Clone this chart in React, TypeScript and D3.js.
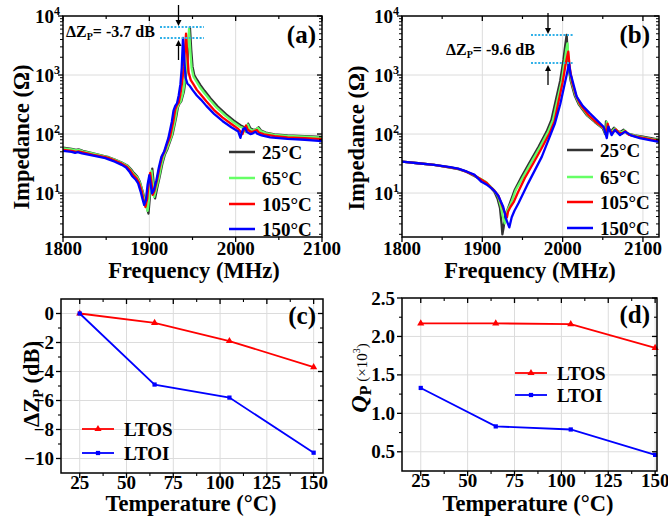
import React from 'react';
import * as d3 from 'd3';

type Pt = [number, number];

const TS: React.CSSProperties = { fontFamily: 'Liberation Serif, serif', fontWeight: 700 };

// ---------- Panel (a): impedance vs frequency ----------
const a25: Pt[] = [[1800,59],[1810,56],[1815,54],[1818,55],[1823,52],[1835,47],[1849,42],[1853,40.5],[1860,37],[1868,33],[1875,29],[1879,25],[1882,22],[1886,19],[1889,15.5],[1892,11],[1895.5,7],[1899,4.5],[1901,10],[1903.4,26],[1905,15],[1906.6,8.1],[1909,12],[1912,19],[1915,31],[1918,45],[1921,56],[1923,68],[1927,100],[1931,190],[1933,280],[1935,330],[1937,360],[1940,520],[1942,850],[1944,1700],[1947,6500],[1948.5,2700],[1950,1400],[1952,1000],[1955,840],[1959,680],[1964,540],[1971,400],[1979,295],[1989,215],[1998,168],[2006,140],[2010,130],[2011.5,112],[2014.5,150],[2017,125],[2021,117],[2024,121],[2026.5,130],[2029.5,114],[2035,106],[2045,99],[2060,95],[2080,92],[2100,89]];
const a65: Pt[] = [[1800,57],[1810,55],[1815,53],[1818,54],[1823,51],[1835,46.5],[1849,41.5],[1853,40],[1860,36.5],[1868,32.5],[1875,28.5],[1879,24],[1882,21],[1886,18.5],[1889,15],[1892,10.5],[1895,7],[1898,5],[1900,9],[1902.5,24],[1904,15],[1905.5,8.5],[1908,12],[1911,18],[1914,30],[1917,44],[1920,55],[1922,66],[1926,95],[1930,180],[1932,270],[1934,320],[1936,350],[1939,500],[1941,800],[1943,1500],[1946,6000],[1947.5,2500],[1949,1300],[1951,950],[1954,800],[1958,640],[1963,510],[1970,380],[1978,280],[1988,205],[1997,160],[2005,133],[2010,125],[2011.5,108],[2014,145],[2016,122],[2020,114],[2023,119],[2026,126],[2029,112],[2035,104],[2045,97],[2060,93],[2080,90],[2100,87]];
const a105: Pt[] = [[1800,54],[1810,52],[1815,50],[1818,51],[1823,49],[1835,44.5],[1849,40.5],[1853,39],[1860,35.5],[1868,31.5],[1874,28],[1878,24],[1881,20.5],[1885,18],[1888,15],[1891,11],[1893,8],[1895.5,5.8],[1897.5,8],[1899.5,16],[1901,22],[1902.5,15],[1904,9.3],[1906,11],[1909,17],[1912,28],[1915,42],[1918,52],[1920,64],[1924,90],[1928,170],[1930,260],[1932,310],[1934,340],[1936,470],[1938,750],[1940,1400],[1942.5,5000],[1944,2200],[1945.5,1100],[1948,820],[1951,700],[1955,560],[1960,460],[1966,360],[1975,255],[1985,190],[1995,148],[2003,122],[2008,100],[2009.5,118],[2012,140],[2014,118],[2018,108],[2021,111],[2024.5,117],[2027,106],[2033,99],[2045,92],[2060,88],[2080,85],[2100,82]];
const a150: Pt[] = [[1800,52],[1810,50],[1814,48],[1817,49.5],[1822,47],[1835,43],[1849,39],[1852,37.5],[1860,34],[1868,30],[1873,27],[1877,23],[1880,19.5],[1884,17],[1887,14.6],[1890,10.5],[1892,8],[1894,6.3],[1896,7.5],[1898,14],[1900,20],[1901.5,14],[1903,9.9],[1905,11],[1908,16],[1911,27],[1914,41],[1917,50],[1919,62],[1922,85],[1926,160],[1928,250],[1930,300],[1932,330],[1934,450],[1936,700],[1937.5,1300],[1939,4250],[1940.5,1800],[1942,900],[1944,720],[1947,650],[1950,560],[1955,450],[1960,380],[1966,300],[1975,220],[1985,165],[1995,130],[2003,110],[2005.5,86],[2007,105],[2009,124],[2011,126],[2013,108],[2017,100],[2020,103],[2023,109],[2025,101],[2030,95],[2040,88],[2060,83],[2080,80],[2100,76]];

// ---------- Panel (b) ----------
const b25: Pt[] = [[1800,34],[1820,32],[1840,30],[1860,27],[1870,25.5],[1880,23],[1890,19.5],[1900,16.5],[1905,15],[1910,12.5],[1915,10.5],[1919,8],[1922,5.6],[1924,3],[1925,2],[1926.5,2.6],[1928,3.9],[1932,5.5],[1934.5,6.8],[1940,11],[1949,19],[1960,35],[1970,61],[1980,110],[1986,173],[1992,400],[1997,800],[2001,1800],[2003,3000],[2005,4800],[2007,1500],[2010,800],[2015,450],[2020,320],[2030,210],[2040,160],[2050,125],[2053,100],[2054,164],[2056,130],[2060,110],[2064,128],[2068,112],[2072,108],[2076,118],[2080,103],[2090,95],[2100,90],[2110,85],[2120,80]];
const b65: Pt[] = [[1800,34],[1820,32],[1840,30],[1860,27.2],[1870,25.7],[1880,23.2],[1890,19.8],[1900,16.8],[1905,15.2],[1910,13],[1915,11],[1920,8.5],[1923,6],[1925.5,4],[1928,3.06],[1929.5,3.6],[1931,5],[1934,6],[1937,7.5],[1942,11.5],[1951,19],[1962,35],[1972,61],[1982,110],[1988,173],[1994,400],[1999,800],[2002.5,1700],[2004.5,2700],[2006,3445],[2008,1400],[2011,780],[2016,450],[2021,320],[2031,210],[2041,160],[2051,125],[2054,98],[2055,160],[2057,128],[2061,108],[2065,124],[2069,110],[2073,106],[2077,115],[2081,101],[2091,93],[2100,88],[2110,83],[2120,79]];
const b105: Pt[] = [[1800,34],[1820,32],[1840,30],[1860,27.3],[1870,25.8],[1880,23.1],[1890,20],[1900,16.5],[1905,15],[1910,12.8],[1915,11],[1920,9],[1924,6.5],[1927,5],[1930.7,3.9],[1932,4.8],[1935,5.8],[1939,7],[1944,10],[1953,18],[1964,33],[1974,58],[1984,105],[1990,165],[1995,360],[2000,750],[2004,1600],[2007,2480],[2009,1300],[2012,740],[2017,440],[2022,315],[2032,210],[2042,158],[2052,125],[2055,95],[2056,150],[2058,120],[2062,104],[2066,120],[2070,106],[2074,102],[2078,112],[2082,98],[2092,90],[2100,86],[2110,81],[2120,77]];
const b150: Pt[] = [[1800,34],[1820,32],[1840,30],[1860,27.5],[1870,26],[1881,23],[1890,20.5],[1899,15.5],[1905,14],[1911.7,12],[1916,10.5],[1920,8.9],[1926,5.86],[1930,3.5],[1933.6,2.62],[1936.6,3.9],[1940,5],[1945,6.7],[1957,14.6],[1974,41],[1990.5,152],[1997,320],[2002,650],[2005,1000],[2008,1580],[2010,1000],[2011,937],[2017.5,430],[2025,300],[2034,224],[2045,160],[2051,133],[2055,85],[2057,133],[2061,96],[2065,117],[2071.5,96],[2078,110],[2085,95],[2096,85],[2110,78],[2120,74]];

const tempLabels = ['25°C', '65°C', '105°C', '150°C'];
const tempColors = ['#333333', '#66ff66', '#ff0000', '#0000ff'];
const freqTicks = [1800, 1900, 2000, 2100];
const freqMinor = [1850, 1950, 2050];
const impTicks = [10, 100, 1000, 10000];
const impExp = ['1', '2', '3', '4'];

// ---------- Panels (c), (d) ----------
const temps = [25, 65, 105, 150];
const dzLTOS = [0, -0.65, -1.9, -3.7];
const dzLTOI = [0, -4.9, -5.8, -9.6];
const qLTOS = [2.17, 2.17, 2.16, 1.85];
const qLTOI = [1.33, 0.83, 0.79, 0.46];
const tempTicks = [25, 50, 75, 100, 125, 150];
const tempMinor = [37.5, 62.5, 87.5, 112.5, 137.5];
const dzTicks = [0, -2, -4, -6, -8, -10];
const dzMinor = [-1, -3, -5, -7, -9];
const qTicks = [0.5, 1.0, 1.5, 2.0, 2.5];
const qMinor = [0.75, 1.25, 1.75, 2.25];
const seriesNames = ['LTOS', 'LTOI'];

const GRID = '#dcdcdc';

function Arrow({ x, from, to }: { x: number; from: number; to: number }) {
  const dir = to > from ? 1 : -1;
  const base = to - dir * 6;
  return (
    <g>
      <line x1={x} x2={x} y1={from} y2={base} stroke="#000" strokeWidth={1.3} />
      <path d={`M${x - 3},${base}L${x + 3},${base}L${x},${to}Z`} fill="#000" />
    </g>
  );
}

function FreqPanel(p: {
  id: string; L: number; R: number; T: number; B: number; fMax: number;
  curves: Pt[][]; legX: number; legYs: number[]; panel: string; panelX: number;
  titleX: number; yTitleX: number; yTitleY: number;
  ann: { text: string; tx: number; ty: number; lx1: number; lx2: number; ly1: number; ly2: number; ax: number };
}) {
  const x = d3.scaleLinear().domain([1800, p.fMax]).range([p.L, p.R]);
  const y = d3.scaleLog().domain([1.8, 1e4]).range([p.B, p.T]);
  const line = d3.line<Pt>().x(d => x(d[0])).y(d => y(d[1])).curve(d3.curveLinear);
  const yMinor: number[] = [];
  [1, 10, 100, 1000].forEach(d => { for (let k = 2; k <= 9; k++) { const v = d * k; if (v >= 1.8 && v < 1e4) yMinor.push(v); } });
  const { ann } = p;
  return (
    <g>
      <defs>
        <clipPath id={p.id}><rect x={p.L} y={p.T} width={p.R - p.L} height={p.B - p.T} /></clipPath>
      </defs>
      {freqTicks.filter(f => x(f) > p.L + 1 && x(f) < p.R - 1).map(f => (
        <line key={'gx' + f} x1={x(f)} x2={x(f)} y1={p.T} y2={p.B} stroke={GRID} strokeWidth={1} />
      ))}
      {impTicks.filter(v => y(v) > p.T + 1).map(v => (
        <line key={'gy' + v} x1={p.L} x2={p.R} y1={y(v)} y2={y(v)} stroke={GRID} strokeWidth={1} />
      ))}
      <g clipPath={`url(#${p.id})`}>
        {p.curves.map((c, i) => (
          <path key={i} d={line(c) || ''} fill="none" stroke={tempColors[i]} strokeWidth={2.3} strokeLinejoin="round" />
        ))}
      </g>
      <rect x={p.L} y={p.T} width={p.R - p.L} height={p.B - p.T} fill="none" stroke="#000" strokeWidth={1.5} />
      {freqTicks.filter(f => f <= p.fMax).map(f => (
        <g key={'xt' + f}>
          <line x1={x(f)} x2={x(f)} y1={p.B} y2={p.B + 5} stroke="#000" strokeWidth={1.3} />
          <line x1={x(f)} x2={x(f)} y1={p.T} y2={p.T + 5} stroke="#000" strokeWidth={1.3} />
          <text x={x(f)} y={p.B + 18} textAnchor="middle" fontSize={19} style={TS}>{f}</text>
        </g>
      ))}
      {freqMinor.map(f => (
        <g key={'xm' + f}>
          <line x1={x(f)} x2={x(f)} y1={p.B} y2={p.B + 3} stroke="#000" strokeWidth={1.2} />
          <line x1={x(f)} x2={x(f)} y1={p.T} y2={p.T + 3} stroke="#000" strokeWidth={1.2} />
        </g>
      ))}
      {impTicks.map((v, i) => (
        <g key={'yt' + v}>
          <line x1={p.L - 5} x2={p.L} y1={y(v)} y2={y(v)} stroke="#000" strokeWidth={1.3} />
          <line x1={p.R - 5} x2={p.R} y1={y(v)} y2={y(v)} stroke="#000" strokeWidth={1.3} />
          <text x={p.L - 3} y={y(v) + 6.5} textAnchor="end" fontSize={19} style={TS}>
            10<tspan fontSize={12} dy={-8}>{impExp[i]}</tspan>
          </text>
        </g>
      ))}
      {yMinor.map(v => (
        <g key={'ym' + v}>
          <line x1={p.L - 3} x2={p.L} y1={y(v)} y2={y(v)} stroke="#000" strokeWidth={1} />
          <line x1={p.R - 3} x2={p.R} y1={y(v)} y2={y(v)} stroke="#000" strokeWidth={1} />
        </g>
      ))}
      <text x={p.titleX} y={278} textAnchor="middle" fontSize={22.5} style={TS}>Frequency (MHz)</text>
      <text transform={`translate(${p.yTitleX},${p.yTitleY}) rotate(-90)`} textAnchor="middle" fontSize={22.5} style={TS}>Impedance (Ω)</text>
      <text x={p.panelX} y={43} textAnchor="end" fontSize={25} style={TS}>{p.panel}</text>
      {tempLabels.map((t, i) => (
        <g key={'lg' + i}>
          <line x1={p.legX} x2={p.legX + 26} y1={p.legYs[i]} y2={p.legYs[i]} stroke={tempColors[i]} strokeWidth={2.5} />
          <text x={p.legX + 33} y={p.legYs[i] + 6.5} fontSize={19} style={TS}>{t}</text>
        </g>
      ))}
      <line x1={ann.lx1} x2={ann.lx2} y1={ann.ly1} y2={ann.ly1} stroke="#2fb0e8" strokeWidth={2} strokeDasharray="2,1.6" />
      <line x1={ann.lx1} x2={ann.lx2} y1={ann.ly2} y2={ann.ly2} stroke="#2fb0e8" strokeWidth={2} strokeDasharray="2,1.6" />
      <Arrow x={ann.ax} from={ann.ly1 - 22} to={ann.ly1 - 1} />
      <Arrow x={ann.ax} from={ann.ly2 + 22} to={ann.ly2 + 2} />
      <text x={ann.tx} y={ann.ty} fontSize={16} style={TS}>
        ΔZ<tspan fontSize={10} dy={3}>P</tspan><tspan dy={-3}>{ann.text}</tspan>
      </text>
    </g>
  );
}

function TempPanel(p: {
  L: number; R: number; T: number; B: number; xDom: [number, number]; yDom: [number, number];
  yTicks: number[]; yMinorT: number[]; fmt: (v: number) => string; s1: number[]; s2: number[];
  legX: number; legY1: number; legY2: number; panel: string; panelX: number; panelY: number; titleX: number;
  yTitle: React.ReactNode;
}) {
  const x = d3.scaleLinear().domain(p.xDom).range([p.L, p.R]);
  const y = d3.scaleLinear().domain(p.yDom).range([p.B, p.T]);
  const line = d3.line<number>().x((_, i) => x(temps[i])).y(d => y(d));
  const tri = d3.symbol().type(d3.symbolTriangle).size(22)() || '';
  const sq = d3.symbol().type(d3.symbolSquare).size(18)() || '';
  const cols = ['#ff0000', '#0000ff'];
  const syms = [tri, sq];
  return (
    <g>
      {tempTicks.map(t => (
        <line key={'gx' + t} x1={x(t)} x2={x(t)} y1={p.T} y2={p.B} stroke={GRID} strokeWidth={1} />
      ))}
      {p.yTicks.filter(v => y(v) > p.T + 1).map(v => (
        <line key={'gy' + v} x1={p.L} x2={p.R} y1={y(v)} y2={y(v)} stroke={GRID} strokeWidth={1} />
      ))}
      {[p.s1, p.s2].map((s, k) => (
        <g key={'s' + k}>
          <path d={line(s) || ''} fill="none" stroke={cols[k]} strokeWidth={1.8} />
          {s.map((v, i) => (
            <path key={i} d={syms[k]} transform={`translate(${x(temps[i])},${y(v)})`} fill={cols[k]} />
          ))}
        </g>
      ))}
      <rect x={p.L} y={p.T} width={p.R - p.L} height={p.B - p.T} fill="none" stroke="#000" strokeWidth={1.5} />
      {tempTicks.map(t => (
        <g key={'xt' + t}>
          <line x1={x(t)} x2={x(t)} y1={p.B} y2={p.B + 5} stroke="#000" strokeWidth={1.3} />
          <line x1={x(t)} x2={x(t)} y1={p.T} y2={p.T + 5} stroke="#000" strokeWidth={1.3} />
          <text x={x(t)} y={p.B + 16} textAnchor="middle" fontSize={19} style={TS}>{t}</text>
        </g>
      ))}
      {tempMinor.map(t => (
        <g key={'xm' + t}>
          <line x1={x(t)} x2={x(t)} y1={p.B} y2={p.B + 3} stroke="#000" strokeWidth={1.1} />
          <line x1={x(t)} x2={x(t)} y1={p.T} y2={p.T + 3} stroke="#000" strokeWidth={1.1} />
        </g>
      ))}
      {p.yTicks.map(v => (
        <g key={'yt' + v}>
          <line x1={p.L - 5} x2={p.L} y1={y(v)} y2={y(v)} stroke="#000" strokeWidth={1.3} />
          <line x1={p.R - 5} x2={p.R} y1={y(v)} y2={y(v)} stroke="#000" strokeWidth={1.3} />
          <text x={p.L - 7} y={y(v) + 6.5} textAnchor="end" fontSize={19} style={TS}>{p.fmt(v)}</text>
        </g>
      ))}
      {p.yMinorT.map(v => (
        <g key={'ym' + v}>
          <line x1={p.L - 3} x2={p.L} y1={y(v)} y2={y(v)} stroke="#000" strokeWidth={1.1} />
          <line x1={p.R - 3} x2={p.R} y1={y(v)} y2={y(v)} stroke="#000" strokeWidth={1.1} />
        </g>
      ))}
      <text x={p.titleX} y={511} textAnchor="middle" fontSize={22.5} style={TS}>Temperature (°C)</text>
      {p.yTitle}
      <text x={p.panelX} y={p.panelY} textAnchor="end" fontSize={25} style={TS}>{p.panel}</text>
      {[p.legY1, p.legY2].map((ly, k) => (
        <g key={'lg' + k}>
          <line x1={p.legX} x2={p.legX + 32} y1={ly} y2={ly} stroke={cols[k]} strokeWidth={1.8} />
          <path d={syms[k]} transform={`translate(${p.legX + 16},${ly})`} fill={cols[k]} />
          <text x={p.legX + 42} y={ly + 6.5} fontSize={19} style={TS}>{seriesNames[k]}</text>
        </g>
      ))}
    </g>
  );
}

export default function App() {
  const f1 = d3.format('d');
  const f2 = d3.format('.1f');
  return (
    <svg width={668} height={517} style={{ position: 'absolute', left: 0, top: 0, background: '#fff' }}>
      <rect width={668} height={517} fill="#fff" />
      <FreqPanel id="clipA" L={63} R={322} T={16} B={237} fMax={2100} curves={[a25, a65, a105, a150]}
        legX={229} legYs={[152, 178, 204, 229]} panel="(a)" panelX={316} titleX={194} yTitleX={29} yTitleY={137}
        ann={{ text: '= -3.7 dB', tx: 66, ty: 37, lx1: 160, lx2: 204, ly1: 27, ly2: 38, ax: 178.5 }} />
      <FreqPanel id="clipB" L={402} R={659} T={16} B={237} fMax={2120} curves={[b25, b65, b105, b150]}
        legX={567} legYs={[150, 177, 202, 228]} panel="(b)" panelX={650} titleX={530} yTitleX={364} yTitleY={138}
        ann={{ text: '= -9.6 dB', tx: 446, ty: 55, lx1: 531, lx2: 574, ly1: 35, ly2: 63, ax: 548 }} />
      <TempPanel L={61} R={323} T={299} B={473} xDom={[15, 155]} yDom={[-11, 1]} yTicks={dzTicks} yMinorT={dzMinor}
        fmt={f1} s1={dzLTOS} s2={dzLTOI} legX={82} legY1={429} legY2={453} panel="(c)" panelX={316} panelY={324}
        titleX={191}
        yTitle={
          <text transform="translate(39,384) rotate(-90)" textAnchor="middle" fontSize={22.5} style={TS}>
            ΔZ<tspan fontSize={14} dy={4}>P</tspan><tspan dy={-4}> (dB)</tspan>
          </text>
        } />
      <TempPanel L={402} R={657} T={298} B={471} xDom={[15, 151]} yDom={[0.25, 2.5]} yTicks={qTicks} yMinorT={qMinor}
        fmt={f2} s1={qLTOS} s2={qLTOI} legX={515} legY1={373} legY2={395} panel="(d)" panelX={650} panelY={323}
        titleX={528}
        yTitle={
          <text transform="translate(367,378) rotate(-90)" textAnchor="middle" fontSize={24} style={TS}>
            <tspan fontStyle="italic">Q</tspan><tspan fontSize={16} dy={4}>P</tspan>
            <tspan fontSize={15} fontWeight="normal" dy={-4}> (×10</tspan><tspan fontSize={10} fontWeight="normal" dy={-7}>3</tspan>
            <tspan fontSize={15} fontWeight="normal" dy={7}>)</tspan>
          </text>
        } />
    </svg>
  );
}
